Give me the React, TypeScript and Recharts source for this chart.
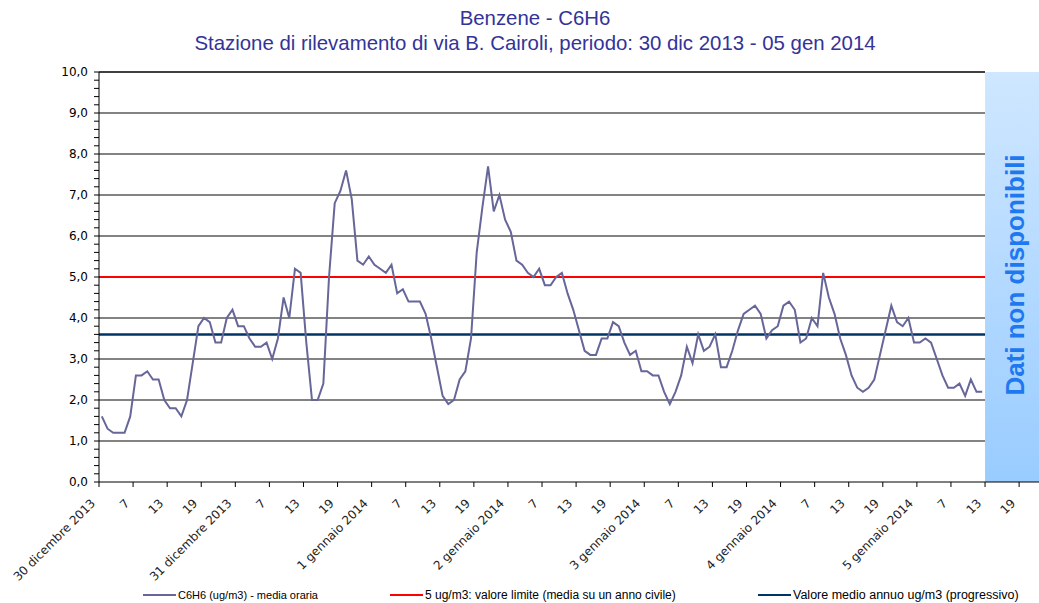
import { LineChart, Line, XAxis, YAxis, ReferenceLine, ReferenceArea } from "recharts";

// hourly values, 30 dic 2013 01:00 -> 5 gen 2014 12:00
const benzene = [
  1.6, 1.3, 1.2, 1.2, 1.2, 1.6, 2.6, 2.6, 2.7, 2.5,
  2.5, 2.0, 1.8, 1.8, 1.6, 2.0, 2.9, 3.8, 4.0, 3.9,
  3.4, 3.4, 4.0, 4.2, 3.8, 3.8, 3.5, 3.3, 3.3, 3.4,
  3.0, 3.5, 4.5, 4.0, 5.2, 5.1, 3.4, 2.0, 2.0, 2.4,
  5.0, 6.8, 7.1, 7.6, 6.9, 5.4, 5.3, 5.5, 5.3, 5.2,
  5.1, 5.3, 4.6, 4.7, 4.4, 4.4, 4.4, 4.1, 3.5, 2.8,
  2.1, 1.9, 2.0, 2.5, 2.7, 3.5, 5.6, 6.7, 7.7, 6.6,
  7.0, 6.4, 6.1, 5.4, 5.3, 5.1, 5.0, 5.2, 4.8, 4.8,
  5.0, 5.1, 4.6, 4.2, 3.7, 3.2, 3.1, 3.1, 3.5, 3.5,
  3.9, 3.8, 3.4, 3.1, 3.2, 2.7, 2.7, 2.6, 2.6, 2.2,
  1.9, 2.2, 2.6, 3.3, 2.9, 3.6, 3.2, 3.3, 3.6, 2.8,
  2.8, 3.2, 3.7, 4.1, 4.2, 4.3, 4.1, 3.5, 3.7, 3.8,
  4.3, 4.4, 4.2, 3.4, 3.5, 4.0, 3.8, 5.1, 4.5, 4.1,
  3.5, 3.1, 2.6, 2.3, 2.2, 2.3, 2.5, 3.1, 3.7, 4.3,
  3.9, 3.8, 4.0, 3.4, 3.4, 3.5, 3.4, 3.0, 2.6, 2.3,
  2.3, 2.4, 2.1, 2.5, 2.2, 2.2,
];

const dayLabels = [
  "30 dicembre 2013", "31 dicembre 2013", "1 gennaio 2014", "2 gennaio 2014",
  "3 gennaio 2014", "4 gennaio 2014", "5 gennaio 2014",
];
const hourLabels = ["7", "13", "19"];
const gridValues = [1, 2, 3, 4, 5, 6, 7, 8, 9, 10];
const limitValue = 5;
const annualMean = 3.6;
const gapStart = 155.5;
const axisEnd = 165;

const data = benzene.map((v, i) => ({ i, v }));
const xTicks = Array.from({ length: 28 }, (_, n) => -0.5 + n * 6);
const yTicks = Array.from({ length: 51 }, (_, k) => Math.round(k * 2) / 10);

const SERIES = "#666699";
const RED = "#ff0000";
const NAVY = "#003366";

const XTick = (props: any) => {
  const { x, y, payload } = props;
  const n = Math.round((payload.value + 0.5) / 6);
  const label = n % 4 === 0 ? dayLabels[n / 4] : hourLabels[(n % 4) - 1];
  const px = x - 3;
  const py = y + 15;
  return (
    <text x={px} y={py} transform={`rotate(-45, ${px}, ${py})`} textAnchor="end"
      fontSize={12} fontFamily="DejaVu Sans" fill="#222">
      {label}
    </text>
  );
};

const GapLabel = (props: any) => {
  const { viewBox } = props;
  const cx = viewBox.x + viewBox.width / 2 + 12;
  const cy = 275;
  return (
    <text x={cx} y={cy} transform={`rotate(-90, ${cx}, ${cy})`} textAnchor="middle"
      fontSize={26} fontWeight="bold" fontFamily="Liberation Sans" fill="#1e78f0">
      Dati non disponibili
    </text>
  );
};

const legendItems = [
  { color: SERIES, label: "C6H6 (ug/m3)  - media oraria", left: 143, size: 11 },
  { color: RED, label: "5 ug/m3: valore limite (media su un anno civile)", left: 390, size: 12 },
  { color: NAVY, label: "Valore medio annuo ug/m3 (progressivo)", left: 758, size: 12.5 },
];

export default function App() {
  return (
    <div style={{ position: "absolute", left: 0, top: 0, width: 1039, height: 603, background: "#fff", overflow: "hidden" }}>
      <div style={{ position: "absolute", left: 535, top: 6, transform: "translateX(-50%)", whiteSpace: "nowrap", textAlign: "center",
        fontFamily: "Liberation Sans", fontSize: 20.4, color: "#333399", lineHeight: "25px" }}>
        <div>Benzene - C6H6</div>
        <div>Stazione di rilevamento di via B. Cairoli, periodo: 30 dic 2013 - 05 gen 2014</div>
      </div>
      <LineChart width={1039} height={603} data={data} margin={{ top: 72, right: 0, left: 39, bottom: 41 }}>
        <defs>
          <linearGradient id="gapFill" x1="0" y1="0" x2="0" y2="1">
            <stop offset="0%" stopColor="#cfe7ff" />
            <stop offset="100%" stopColor="#99ccff" />
          </linearGradient>
        </defs>
        <XAxis dataKey="i" type="number" domain={[-0.5, axisEnd]} ticks={xTicks} interval={0}
          tick={<XTick />} tickSize={5} height={80} axisLine={{ stroke: "#000" }} tickLine={{ stroke: "#000" }}
          allowDataOverflow />
        <YAxis type="number" domain={[0, 10]} ticks={yTicks} interval={0} width={60} tickSize={5} tickMargin={6}
          axisLine={{ stroke: "#000" }} tickLine={{ stroke: "#000" }}
          tick={{ fontSize: 12, fontFamily: "DejaVu Sans", fill: "#000" }}
          tickFormatter={(v: number) => (Math.abs(v - Math.round(v)) < 1e-6 ? v.toFixed(1).replace(".", ",") : "")} />
        {gridValues.map((g) => (
          <ReferenceLine key={g} segment={[{ x: -0.5, y: g }, { x: gapStart, y: g }]}
            stroke={g === 10 ? "#000" : "#5a5a5a"} strokeWidth={g === 10 ? 1.5 : 1.6} />
        ))}
        <ReferenceLine segment={[{ x: -0.5, y: limitValue }, { x: gapStart, y: limitValue }]} stroke={RED} strokeWidth={2} />
        <ReferenceLine segment={[{ x: -0.5, y: annualMean }, { x: gapStart, y: annualMean }]} stroke={NAVY} strokeWidth={2.5} />
        <ReferenceArea x1={gapStart} x2={axisEnd} y1={0} y2={10} fill="url(#gapFill)" fillOpacity={1} stroke="none"
          label={GapLabel} />
        <Line type="linear" dataKey="v" stroke={SERIES} strokeWidth={2} dot={false} isAnimationActive={false} />
      </LineChart>
      {legendItems.map((it) => (
        <div key={it.label} style={{ position: "absolute", left: it.left, top: 588, height: 14, display: "flex", alignItems: "center",
          fontFamily: "Liberation Sans", fontSize: it.size, lineHeight: "14px", color: "#000", whiteSpace: "nowrap" }}>
          <span style={{ display: "inline-block", width: 33, height: 2.5, background: it.color, marginRight: 2 }} />
          <span>{it.label}</span>
        </div>
      ))}
    </div>
  );
}
